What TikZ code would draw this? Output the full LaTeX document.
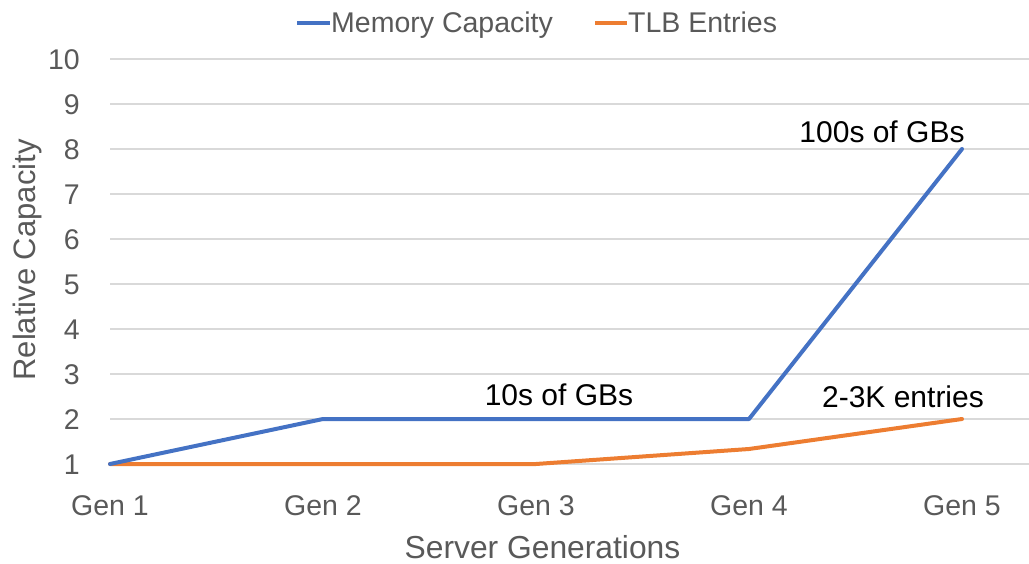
\documentclass[tikz,border=0pt]{standalone}
\usepackage{fontspec}
\setmainfont{Liberation Sans}
\definecolor{memblue}{HTML}{4472C4}
\definecolor{tlborange}{HTML}{ED7D31}
\definecolor{axisgray}{HTML}{595959}
\definecolor{gridgray}{HTML}{D9D9D9}
\tikzset{
  gridline/.style={draw=gridgray, line width=1.5pt},
  series/.style={line width=4pt, line join=round, line cap=round},
  ticklabel/.style={text=axisgray, inner sep=0pt, font=\fontsize{28.5}{32}\selectfont},
  axistitle/.style={text=axisgray, inner sep=0pt, font=\fontsize{31}{34}\selectfont},
  legendtext/.style={text=axisgray, inner sep=0pt, anchor=base west, font=\fontsize{28.5}{32}\selectfont},
  annot/.style={text=black, inner sep=0pt, anchor=base, font=\fontsize{30}{34}\selectfont},
}
\begin{document}
\begin{tikzpicture}[x=1pt, y=-1pt]
  \useasboundingbox (0,0) rectangle (1029,564);

  % horizontal grid and value labels (value v sits at y = 464 - 45(v-1))
  \foreach \v in {1,...,10} {
    \pgfmathsetmacro{\gy}{464-45*(\v-1)}
    \draw[gridline] (110,\gy) -- (1029,\gy);
    \node[ticklabel, anchor=base east] (ytick\v) at (80,\gy+10.2) {\v};
  }

  % category labels (generation i sits at x = 110 + 213(i-1))
  \foreach \g in {1,...,5} {
    \pgfmathsetmacro{\gx}{110+213*(\g-1)}
    \node[ticklabel, anchor=base] (xtick\g) at (\gx,515) {Gen \g};
  }

  % axis titles
  \node[axistitle, anchor=base, font=\fontsize{31.8}{35}\selectfont] (xtitle) at (542.5,558.5) {Server Generations};
  \node[axistitle, anchor=base, rotate=90] (ytitle) at (35,260) {Relative Capacity};

  % data points
  \coordinate (m1) at (110,464);
  \coordinate (m2) at (323,419);
  \coordinate (m3) at (536,419);
  \coordinate (m4) at (749,419);
  \coordinate (m5) at (962,149);
  \coordinate (t1) at (110,464);
  \coordinate (t2) at (323,464);
  \coordinate (t3) at (536,464);
  \coordinate (t4) at (749,449);
  \coordinate (t5) at (962,419);

  % series
  \draw[series, tlborange] (t1) -- (t2) -- (t3) -- (t4) -- (t5);
  \draw[series, memblue] (m1) -- (m2) -- (m3) -- (m4) -- (m5);

  % annotations
  \node[annot] (lab10s) at (559,405) {10s of GBs};
  \node[annot] (lab100s) at (882,143) {100s of GBs};
  \node[annot] (labtlb) at (903,407) {2-3K entries};

  % legend
  \coordinate (lgA1) at (297,23);
  \coordinate (lgA2) at (330,23);
  \draw[memblue, line width=4pt] (lgA1) -- (lgA2);
  \node[legendtext] (lgAtext) at (331,33) {Memory Capacity};
  \coordinate (lgB1) at (595,23);
  \coordinate (lgB2) at (627,23);
  \draw[tlborange, line width=4pt] (lgB1) -- (lgB2);
  \node[legendtext] (lgBtext) at (628,33) {TLB Entries};
\end{tikzpicture}
\end{document}
